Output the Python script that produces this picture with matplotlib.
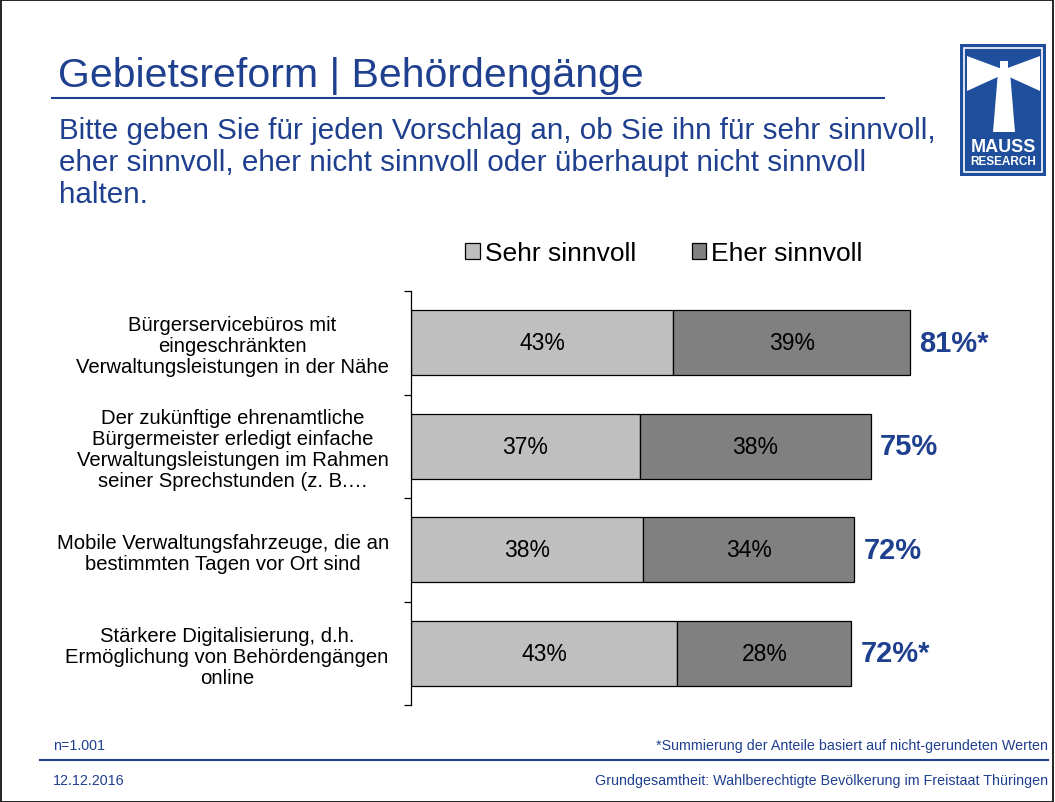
import matplotlib
matplotlib.use("Agg")
import matplotlib.pyplot as plt
from matplotlib.patches import Rectangle, Polygon
from matplotlib.lines import Line2D

plt.rcParams['font.family'] = ['Liberation Sans', 'DejaVu Sans']

categories = [
    "Bürgerservicebüros mit\neingeschränkten\nVerwaltungsleistungen in der Nähe",
    "Der zukünftige ehrenamtliche\nBürgermeister erledigt einfache\nVerwaltungsleistungen im Rahmen\nseiner Sprechstunden (z. B.…",
    "Mobile Verwaltungsfahrzeuge, die an\nbestimmten Tagen vor Ort sind",
    "Stärkere Digitalisierung, d.h.\nErmöglichung von Behördengängen\nonline",
]
series_names = ["Sehr sinnvoll", "Eher sinnvoll"]
sehr = [42.6, 37.2, 37.7, 43.3]
eher = [38.6, 37.6, 34.4, 28.3]
sehr_labels = ["43%", "37%", "38%", "43%"]
eher_labels = ["39%", "38%", "34%", "28%"]
total_labels = ["81%*", "75%", "72%", "72%*"]

W, H = 1055, 803
BLUE = "#1F3F8F"
fig = plt.figure(figsize=(W / 100, H / 100), dpi=100)

def fx(x):
    return x / W

def fy(y):
    return 1 - y / H

# figure border
fig.add_artist(Rectangle((0.0005, 0.0005), 0.998, 0.998, transform=fig.transFigure,
                         fill=False, edgecolor="black", lw=1.2))

# title
fig.text(fx(58), fy(76), "Gebietsreform | Behördengänge", fontsize=29.5, color=BLUE,
         va="center", ha="left")
fig.add_artist(Line2D([fx(52), fx(884)], [fy(99), fy(99)], transform=fig.transFigure,
                      color=BLUE, lw=1.5))
fig.text(fx(59), fy(163),
         "Bitte geben Sie für jeden Vorschlag an, ob Sie ihn für sehr sinnvoll,\n"
         "eher sinnvoll, eher nicht sinnvoll oder überhaupt nicht sinnvoll\nhalten.",
         fontsize=21.3, color=BLUE, va="center", ha="left", linespacing=1.18)

# logo
lx0, ly0, lx1, ly1 = 960, 45, 1046, 177
fig.add_artist(Rectangle((fx(lx0), fy(ly1)), fx(lx1 - lx0), (ly1 - ly0) / H,
                         transform=fig.transFigure, facecolor="#1F4E9C", edgecolor="none"))
fig.add_artist(Rectangle((fx(lx0 + 4), fy(ly1 - 4)), fx(lx1 - lx0 - 8), (ly1 - ly0 - 8) / H,
                         transform=fig.transFigure, fill=False, edgecolor="white", lw=1.2))
def poly(pts, **kw):
    fig.add_artist(Polygon([(fx(x), fy(y)) for x, y in pts], closed=True,
                           transform=fig.transFigure, **kw))
poly([(967, 57), (1002, 70), (1002, 76), (967, 92)], facecolor="white", edgecolor="none")
poly([(1040, 57), (1005, 70), (1005, 76), (1040, 92)], facecolor="white", edgecolor="none")
poly([(998, 73), (1010, 73), (1015, 133), (993, 133)], facecolor="white", edgecolor="none")
poly([(1000, 62), (1008, 62), (1008, 73), (1000, 73)], facecolor="white", edgecolor="none")
fig.text(fx(1003), fy(148), "MAUSS", fontsize=13, fontweight="bold", color="white",
         ha="center", va="center")
fig.text(fx(1003), fy(162), "RESEARCH", fontsize=8.5, fontweight="bold", color="white",
         ha="center", va="center")

# axes
ax = fig.add_axes([fx(411), fy(706), fx(1026 - 411), (706 - 292) / H])
y = list(range(len(categories)))
b1 = ax.barh(y, sehr, height=0.63, color="#BFBFBF", edgecolor="black", lw=0.9,
             label=series_names[0])
b2 = ax.barh(y, eher, left=sehr, height=0.63, color="#808080", edgecolor="black", lw=0.9,
             label=series_names[1])
ax.bar_label(b1, labels=sehr_labels, label_type="center", fontsize=16.5, color="black")
ax.bar_label(b2, labels=eher_labels, label_type="center", fontsize=16.5, color="black")
for i in y:
    ax.text(sehr[i] + eher[i] + 1.5, i, total_labels[i], fontsize=21, fontweight="bold",
            color=BLUE, va="center", ha="left")

ax.set_xlim(0, 100)
ax.set_ylim(3.5, -0.5)
for s in ["top", "right", "bottom"]:
    ax.spines[s].set_visible(False)
ax.spines["left"].set_linewidth(0.9)
ax.set_xticks([])
ax.set_yticks(y)
ax.set_yticklabels(categories, fontsize=14.6)
for t in ax.get_yticklabels():
    t.set_multialignment("center")
    t.set_linespacing(1.13)
ax.tick_params(axis="y", which="major", length=0, pad=16)
ax.set_yticks([-0.5, 0.5, 1.5, 2.5, 3.5], minor=True)
ax.tick_params(axis="y", which="minor", length=5, width=0.9, direction="out")
ax.set_facecolor("none")

fig.legend(handles=[b1, b2], loc="center", bbox_to_anchor=(fx(664), fy(254)), ncol=2,
           frameon=False, fontsize=19, handlelength=0.55, handleheight=0.55,
           handletextpad=0.2, columnspacing=2.1)

# footer
fig.text(fx(53), fy(746), "n=1.001", fontsize=10.3, color=BLUE, ha="left", va="center")
fig.text(fx(1048), fy(746), "*Summierung der Anteile basiert auf nicht-gerundeten Werten",
         fontsize=10.3, color=BLUE, ha="right", va="center")
fig.add_artist(Line2D([fx(40), fx(1048)], [fy(761), fy(761)], transform=fig.transFigure,
                      color=BLUE, lw=1.5))
fig.text(fx(53), fy(781), "12.12.2016", fontsize=10.3, color=BLUE, ha="left", va="center")
fig.text(fx(1048), fy(781), "Grundgesamtheit: Wahlberechtigte Bevölkerung im Freistaat Thüringen",
         fontsize=10.3, color=BLUE, ha="right", va="center")

fig.savefig("out.png", dpi=100)
